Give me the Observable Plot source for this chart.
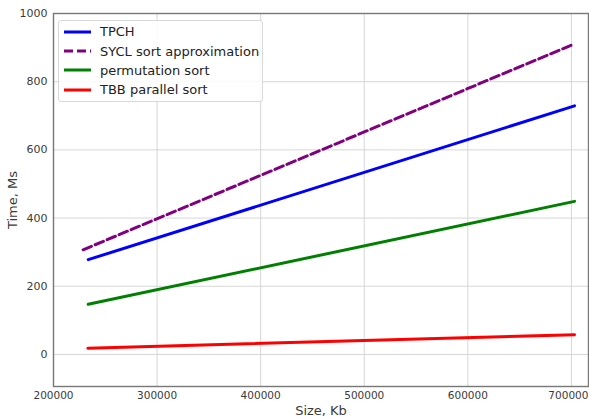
<!DOCTYPE html>
<html>
<head>
<meta charset="utf-8">
<script src="https://cdn.jsdelivr.net/npm/d3@7"></script>
<script src="https://cdn.jsdelivr.net/npm/@observablehq/plot@0.6"></script>
<style>
  html, body { margin: 0; padding: 0; background: #fff; }
  #wrap { position: relative; width: 589px; height: 418px; font-family: "DejaVu Sans", sans-serif; }
  #legend { position: absolute; left: 58px; top: 20px; width: 205px; height: 82px;
    border: 1px solid #d8d8d8; border-radius: 3px; background: rgba(255,255,255,0.85);
    box-sizing: border-box; padding-top: 1px; }
  .row { display: flex; align-items: center; height: 19.4px; font-size: 13px; color: #222; }
  .row svg { margin-left: 5px; margin-right: 9px; }
</style>
</head>
<body>
<div id="wrap"></div>
<script>
// Data
const seriesNames = ["TPCH", "SYCL sort approximation", "permutation sort", "TBB parallel sort"];
const seriesColors = ["blue", "purple", "green", "red"];
const tpchSize = [233500, 703000];
const tpchTime = [278, 729];
const syclSize = [228600, 703000];
const syclTime = [307, 911];
const permSize = [233500, 703000];
const permTime = [147, 449];
const tbbSize = [233200, 703000];
const tbbTime = [18.5, 58];
const xTicks = [200000, 300000, 400000, 500000, 600000, 700000];
const yTicks = [0, 200, 400, 600, 800, 1000];

const toRows = (xs, ys, name) => xs.map((x, i) => ({size: x, time: ys[i], series: name}));
const tpch = toRows(tpchSize, tpchTime, seriesNames[0]);
const sycl = toRows(syclSize, syclTime, seriesNames[1]);
const perm = toRows(permSize, permTime, seriesNames[2]);
const tbb = toRows(tbbSize, tbbTime, seriesNames[3]);

const chart = Plot.plot({
  width: 589,
  height: 418,
  marginLeft: 53,
  marginRight: 1,
  marginTop: 13,
  marginBottom: 32,
  style: {fontFamily: "DejaVu Sans, sans-serif", fontSize: "11px", color: "#3a3a3a", background: "#fff"},
  x: {domain: [200000, 716500], ticks: xTicks, tickFormat: d3.format("d"), label: null},
  y: {domain: [-94, 1000], ticks: yTicks, tickFormat: d3.format("d"), label: null},
  marks: [
    Plot.gridX(xTicks, {stroke: "#d6d6d6", strokeOpacity: 1}),
    Plot.gridY(yTicks, {stroke: "#d6d6d6", strokeOpacity: 1}),
    Plot.axisX({ticks: xTicks, tickFormat: d3.format("d"), tickSize: 0, tickPadding: 5,
      label: "Size, Kb", labelAnchor: "center", labelArrow: "none", labelOffset: 28, fontSize: 10.5}),
    Plot.axisY({ticks: yTicks, tickFormat: d3.format("d"), tickSize: 0, tickPadding: 6,
      label: "Time, Ms", labelAnchor: "center", labelArrow: "none", labelOffset: 46, fontSize: 11}),
    Plot.frame({stroke: "#777", strokeWidth: 1.4}),
    Plot.line(tbb, {x: "size", y: "time", stroke: seriesColors[3], strokeWidth: 3}),
    Plot.line(perm, {x: "size", y: "time", stroke: seriesColors[2], strokeWidth: 3}),
    Plot.line(tpch, {x: "size", y: "time", stroke: seriesColors[0], strokeWidth: 3}),
    Plot.line(sycl, {x: "size", y: "time", stroke: seriesColors[1], strokeWidth: 3, strokeDasharray: "9,4"})
  ]
});

const wrap = document.getElementById("wrap");
wrap.appendChild(chart);

chart.querySelectorAll("g[aria-label='x-axis label'] text, g[aria-label='y-axis label'] text").forEach(t => t.setAttribute("font-size", "13px"));
// keep the last x tick label inside the window
const xTickTexts = chart.querySelectorAll("g[aria-label='x-axis tick label'] text");
if (xTickTexts.length) {
  const last = xTickTexts[xTickTexts.length - 1];
  last.setAttribute("dx", "-3");
}

const legend = document.createElement("div");
legend.id = "legend";
seriesNames.forEach((name, i) => {
  const row = document.createElement("div");
  row.className = "row";
  const dash = i === 1 ? 'stroke-dasharray="9,4"' : '';
  row.innerHTML = `<svg width="27" height="6"><line x1="0" x2="27" y1="3" y2="3" stroke="${seriesColors[i]}" stroke-width="3" ${dash}/></svg><span>${name}</span>`;
  legend.appendChild(row);
});
wrap.appendChild(legend);
</script>
</body>
</html>
